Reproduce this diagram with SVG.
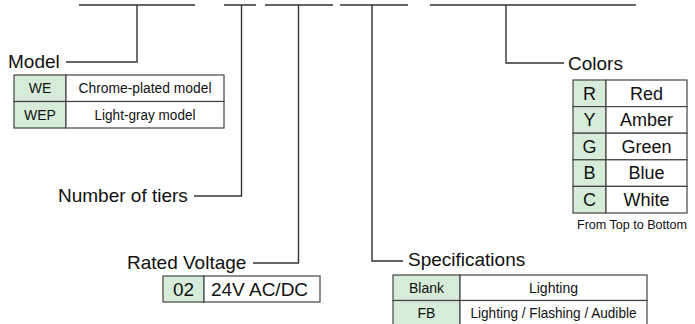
<svg xmlns="http://www.w3.org/2000/svg" width="695" height="324" viewBox="0 0 695 324">
<style>
.ln{stroke:#333;stroke-width:1.4;fill:none}
.cell{fill:#fff;stroke:#444;stroke-width:1.2}
.key{fill:#d6ecd8;stroke:#444;stroke-width:1.2}
text{font-family:"Liberation Sans",Arial,sans-serif;fill:#111}
.lbl{font-size:19px}
.t14{font-size:14px;text-anchor:middle}
.t18{font-size:18px;text-anchor:middle}
.t19{font-size:19px;text-anchor:middle}
</style>
<rect width="695" height="324" fill="#fff"/>
<g id="connectors">
<path class="ln" d="M79 5H195M224 5H256M265 5H333M340 5H408M430 5H636"/>
<path class="ln" d="M137 5V62H66"/>
<path class="ln" d="M241.5 5V196H194"/>
<path class="ln" d="M298.5 5V263H253"/>
<path class="ln" d="M372 5V261H403"/>
<path class="ln" d="M506 5V63H564"/>
</g>
<g id="model">
<text class="lbl" x="8" y="68">Model</text>
<rect class="key" x="14" y="75" width="52" height="26.5"/>
<rect class="cell" x="66" y="75" width="158" height="26.5"/>
<rect class="key" x="14" y="101.5" width="52" height="26.5"/>
<rect class="cell" x="66" y="101.5" width="158" height="26.5"/>
<text class="t14" x="40" y="93">WE</text>
<text class="t14" x="145" y="93" textLength="133" lengthAdjust="spacingAndGlyphs">Chrome-plated model</text>
<text class="t14" x="40" y="120">WEP</text>
<text class="t14" x="145" y="120" textLength="101" lengthAdjust="spacingAndGlyphs">Light-gray model</text>
</g>
<g id="tiers">
<text class="lbl" x="58" y="202">Number of tiers</text>
</g>
<g id="voltage">
<text class="lbl" x="127" y="269">Rated Voltage</text>
<rect class="key" x="163" y="276" width="41" height="26"/>
<rect class="cell" x="204" y="276" width="116" height="26"/>
<text class="t19" x="183.5" y="296">02</text>
<text class="t19" x="259.5" y="296">24V AC/DC</text>
</g>
<g id="specs">
<text class="lbl" x="408" y="266">Specifications</text>
<rect class="key" x="393" y="275" width="67" height="25.5"/>
<rect class="cell" x="460" y="275" width="187" height="25.5"/>
<rect class="key" x="393" y="300.5" width="67" height="25.5"/>
<rect class="cell" x="460" y="300.5" width="187" height="25.5"/>
<text class="t14" x="426.5" y="293">Blank</text>
<text class="t14" x="553.5" y="293">Lighting</text>
<text class="t14" x="426.5" y="318">FB</text>
<text class="t14" x="553.5" y="318" textLength="166" lengthAdjust="spacingAndGlyphs">Lighting / Flashing / Audible</text>
</g>
<g id="colors">
<text class="lbl" x="568" y="70">Colors</text>
<rect class="key" x="573" y="80" width="33" height="26.6"/>
<rect class="cell" x="606" y="80" width="81" height="26.6"/>
<rect class="key" x="573" y="106.6" width="33" height="26.6"/>
<rect class="cell" x="606" y="106.6" width="81" height="26.6"/>
<rect class="key" x="573" y="133.2" width="33" height="26.6"/>
<rect class="cell" x="606" y="133.2" width="81" height="26.6"/>
<rect class="key" x="573" y="159.8" width="33" height="26.6"/>
<rect class="cell" x="606" y="159.8" width="81" height="26.6"/>
<rect class="key" x="573" y="186.4" width="33" height="26.6"/>
<rect class="cell" x="606" y="186.4" width="81" height="26.6"/>
<text class="t18" x="589.5" y="99.5">R</text>
<text class="t18" x="646.5" y="99.5">Red</text>
<text class="t18" x="589.5" y="126">Y</text>
<text class="t18" x="646.5" y="126">Amber</text>
<text class="t18" x="589.5" y="152.5">G</text>
<text class="t18" x="646.5" y="152.5">Green</text>
<text class="t18" x="589.5" y="179">B</text>
<text class="t18" x="646.5" y="179">Blue</text>
<text class="t18" x="589.5" y="205.5">C</text>
<text class="t18" x="646.5" y="205.5">White</text>
<text x="632" y="229" font-size="13" text-anchor="middle" textLength="110" lengthAdjust="spacingAndGlyphs">From Top to Bottom</text>
</g>
</svg>
